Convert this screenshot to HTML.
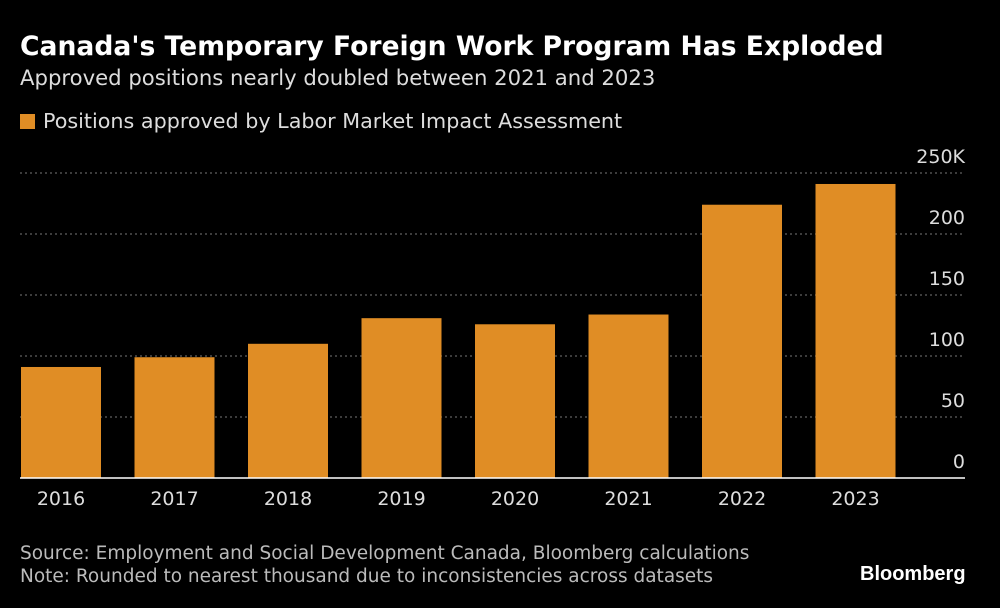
<!DOCTYPE html>
<html><head><meta charset="utf-8"><style>
body{margin:0;background:#000;width:1000px;height:608px;overflow:hidden;font-family:"DejaVu Sans",sans-serif;color:#fff}
.t{position:absolute;white-space:nowrap}
</style></head><body>
<div class="t" style="left:20px;top:31px;font-size:26.6px;font-weight:bold">Canada's Temporary Foreign Work Program Has Exploded</div>
<div class="t" style="left:20px;top:65px;font-size:21.2px;color:#ddd">Approved positions nearly doubled between 2021 and 2023</div>
<div class="t" style="left:20px;top:109px;font-size:20.7px;color:#ddd"><span style="display:inline-block;width:15px;height:15px;background:#e08d25;margin-right:8px;vertical-align:-1px"></span>Positions approved by Labor Market Impact Assessment</div>
<svg id="c" width="1000" height="608" style="position:absolute;left:0;top:0"></svg>
<div class="t" style="left:20px;top:542px;font-size:18.5px;color:#bbb;line-height:23px">Source: Employment and Social Development Canada, Bloomberg calculations<br>Note: Rounded to nearest thousand due to inconsistencies across datasets</div>
<div class="t" style="left:860px;top:563px;font-size:20px;font-weight:bold;font-family:'Liberation Sans',sans-serif">Bloomberg</div>
<script>
const categories=["2016","2017","2018","2019","2020","2021","2022","2023"];
const values=[91,99,110,131,126,134,224,241];
const ticks=[0,50,100,150,200,250];
const tickLabels=["0","50","100","150","200","250K"];
const svg=document.getElementById('c');const NS="http://www.w3.org/2000/svg";
const y0=478,pxPer=1.22,x0=20,step=113.5,bw=80;
const y=v=>y0-v*pxPer;const x=i=>x0+1+i*step;
function mk(t,a){const e=document.createElementNS(NS,t);for(const k in a)e.setAttribute(k,a[k]);svg.appendChild(e);return e;}
ticks.forEach((v,i)=>{
 if(v>0){const l=mk('line',{x1:20,x2:965,y1:y(v),y2:y(v),stroke:'#777','stroke-dasharray':'2,3','stroke-width':1});
 
 }
 const t=mk('text',{x:965,y:y(v)-10,'text-anchor':'end',fill:'#ddd','font-size':19,'font-family':'DejaVu Sans'});
 
 
 t.textContent=tickLabels[i];
});
values.forEach((v,i)=>{
 const r=mk('rect',{x:x(i),y:y(v),width:bw,height:y0-y(v),fill:'#e08d25'});
 
 
 const t=mk('text',{x:x(i)+bw/2,y:505,'text-anchor':'middle',fill:'#ddd','font-size':19,'font-family':'DejaVu Sans'});
 
 
 t.textContent=categories[i];
});
const b=mk('line',{x1:20,x2:965,y1:y0,y2:y0,stroke:'#fff','stroke-width':1.5});


</script>
</body></html>
